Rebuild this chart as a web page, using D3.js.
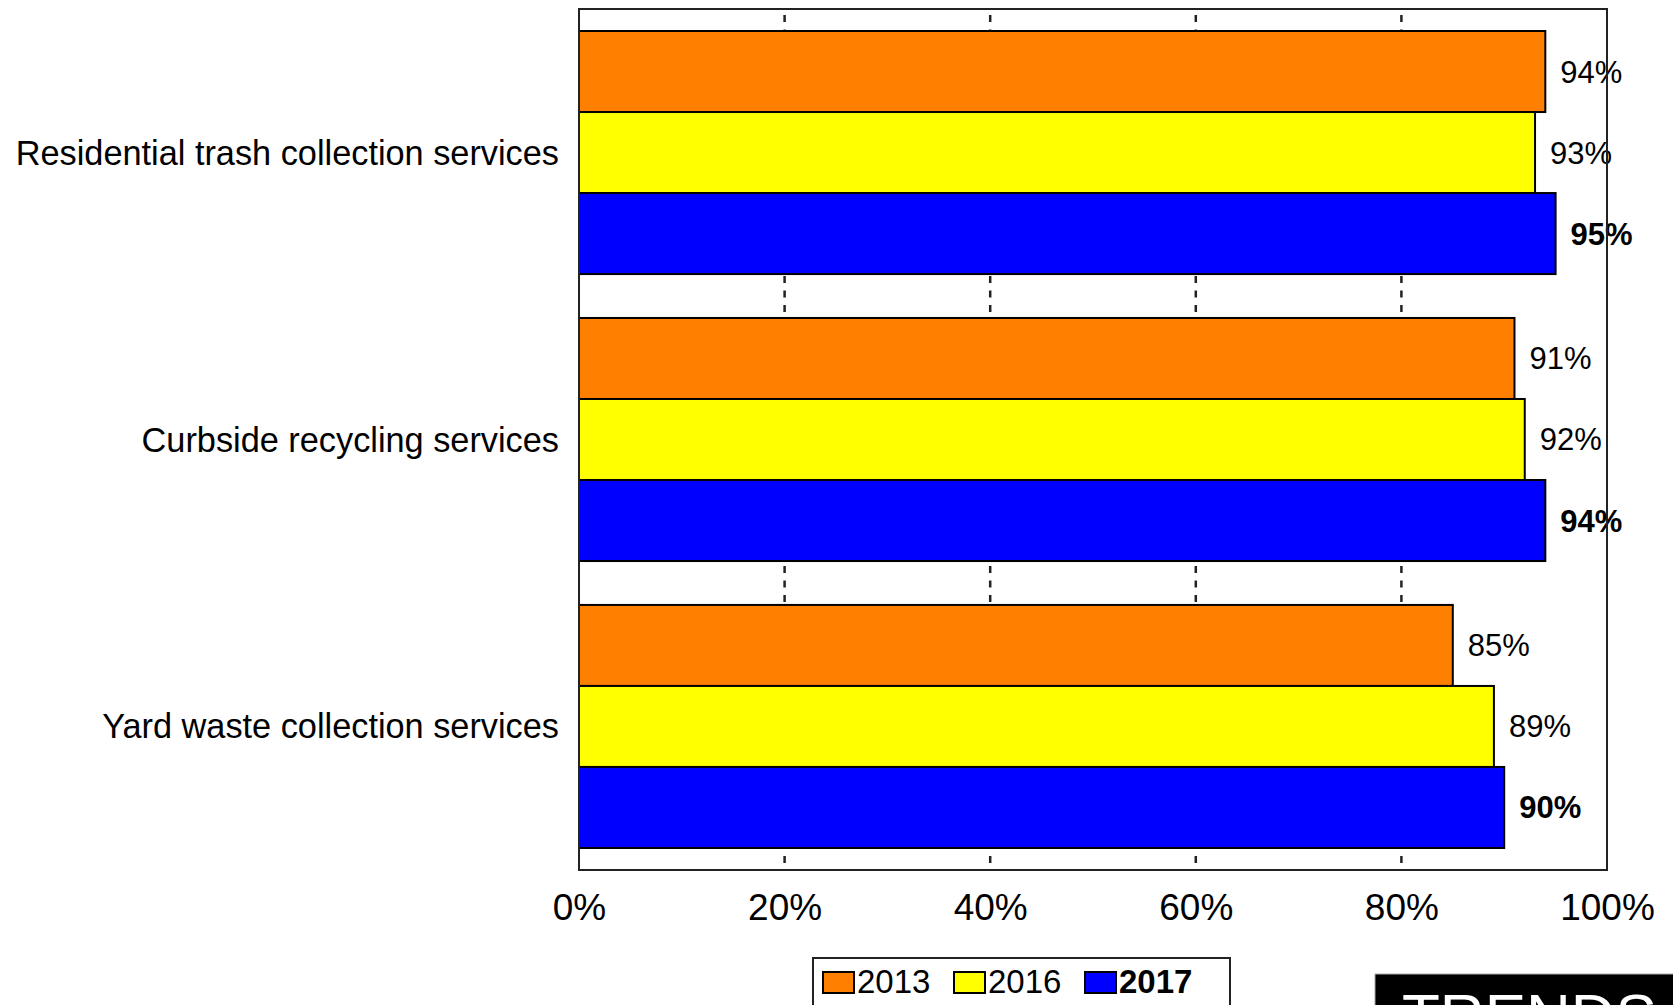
<!DOCTYPE html>
<html>
<head>
<meta charset="utf-8">
<script src="https://cdn.jsdelivr.net/npm/d3@7"></script>
<style>
  html, body { margin: 0; padding: 0; background: #fff; overflow: hidden; }
  svg { display: block; font-family: "Liberation Sans", Arial, sans-serif; }
</style>
</head>
<body>
<svg id="chart" width="1673" height="1005"></svg>
<script>
const categories = ["Residential trash collection services", "Curbside recycling services", "Yard waste collection services"];
const years = ["2013", "2016", "2017"];
const values2013 = [94, 91, 85];
const values2016 = [93, 92, 89];
const values2017 = [95, 94, 90];
const xTicks = [0, 20, 40, 60, 80, 100];
const gridTicks = [20, 40, 60, 80];
const colors = ["#FF8000", "#FFFF00", "#0000FF"];

const series = [values2013, values2016, values2017];

const svg = d3.select("#chart");
const plotL = 579, plotR = 1607, plotT = 9, plotB = 870;

const x = d3.scaleLinear().domain([0, 100]).range([plotL, plotR]);
const y0 = d3.scaleBand().domain(categories).range([plotT, plotB]).paddingInner(0.153).paddingOuter(0.0767);
const y1 = d3.scaleBand().domain(years).range([0, y0.bandwidth()]).padding(0);

// gridlines
svg.append("g").selectAll("line").data(gridTicks).join("line")
  .attr("x1", d => x(d)).attr("x2", d => x(d))
  .attr("y1", plotT).attr("y2", plotB)
  .attr("stroke", "#222").attr("stroke-width", 2.5)
  .attr("stroke-dasharray", "7,7.5").attr("stroke-dashoffset", 8.5);

// bars
const groups = svg.append("g").selectAll("g").data(categories).join("g")
  .attr("transform", d => `translate(0,${y0(d)})`);

groups.each(function(cat, ci) {
  const g = d3.select(this);
  years.forEach((yr, si) => {
    const v = series[si][ci];
    g.append("rect")
      .attr("x", x(0)).attr("y", y1(yr))
      .attr("width", x(v) - x(0)).attr("height", y1.bandwidth())
      .attr("fill", colors[si]).attr("stroke", "#000").attr("stroke-width", 2);
  });
});

// plot border
svg.append("rect")
  .attr("x", plotL).attr("y", plotT).attr("width", plotR - plotL).attr("height", plotB - plotT)
  .attr("fill", "none").attr("stroke", "#222").attr("stroke-width", 2);

// value labels
groups.each(function(cat, ci) {
  const g = d3.select(this);
  years.forEach((yr, si) => {
    const v = series[si][ci];
    g.append("text")
      .attr("x", x(v) + 15)
      .attr("y", y1(yr) + y1.bandwidth() / 2 + 11)
      .attr("font-size", 31)
      .attr("font-weight", si === 2 ? "bold" : "normal")
      .attr("fill", "#000")
      .text(v + "%");
  });
});

// category labels
svg.append("g").selectAll("text").data(categories).join("text")
  .attr("x", 559)
  .attr("y", d => y0(d) + y0.bandwidth() / 2 + 12)
  .attr("text-anchor", "end")
  .attr("font-size", 34.3)
  .attr("fill", "#000")
  .text(d => d);

// x axis labels
const xAxis = d3.axisBottom(x).tickValues(xTicks).tickSize(0).tickPadding(0).tickFormat(d => d + "%");
const axG = svg.append("g").attr("transform", `translate(0,${plotB})`).call(xAxis);
axG.select(".domain").remove();
axG.selectAll("text")
  .attr("font-size", 37)
  .attr("font-family", "'Liberation Sans', Arial, sans-serif")
  .attr("fill", "#000")
  .attr("dy", null)
  .attr("y", 50);

// legend
const lg = svg.append("g");
lg.append("rect").attr("x", 813).attr("y", 958).attr("width", 417).attr("height", 60)
  .attr("fill", "#fff").attr("stroke", "#222").attr("stroke-width", 2);
const legendX = d3.scalePoint().domain(years).range([823, 1085]);
years.forEach((yr, i) => {
  lg.append("rect").attr("x", legendX(yr)).attr("y", 972).attr("width", 31).attr("height", 21)
    .attr("fill", colors[i]).attr("stroke", "#000").attr("stroke-width", 2);
  lg.append("text").attr("x", legendX(yr) + 34).attr("y", 993)
    .attr("font-size", 33).attr("font-weight", i === 2 ? "bold" : "normal")
    .attr("fill", "#000").text(yr);
});

// TRENDS badge
svg.append("rect").attr("x", 1375).attr("y", 974).attr("width", 310).attr("height", 60)
  .attr("fill", "#000").attr("stroke", "#aaa").attr("stroke-width", 1);
svg.append("text").attr("x", 1402).attr("y", 1037).attr("font-size", 62)
  .attr("fill", "#fff").text("TRENDS");
</script>
</body>
</html>
